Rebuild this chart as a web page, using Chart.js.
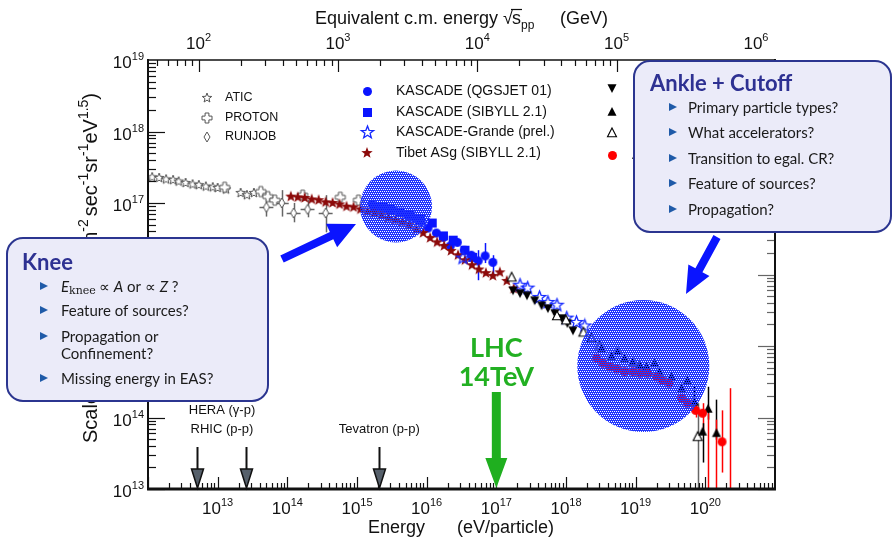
<!DOCTYPE html>
<html>
<head>
<meta charset="utf-8">
<script src="https://cdn.jsdelivr.net/npm/chart.js@4.4.0/dist/chart.umd.min.js"></script>
<style>
  html, body { margin: 0; padding: 0; background: #fff; }
  #wrap { width: 893px; height: 538px; }
</style>
</head>
<body>
<div id="wrap"><canvas id="cr" width="893" height="538"></canvas></div>
<script>
// all values are log10: energy in eV, scaled flux E^2.5 J(E)
const aticE = [12.06, 12.16, 12.26, 12.36, 12.44, 12.54, 12.64, 12.73, 12.83, 12.93, 13.00, 13.12, 13.33, 13.42, 13.52];
const aticF = [17.36, 17.35, 17.33, 17.32, 17.30, 17.28, 17.26, 17.25, 17.23, 17.22, 17.21, 17.19, 17.14, 17.11, 17.14];

const protonE = [13.10, 13.62, 13.72, 13.82, 14.22, 14.76, 15.02];
const protonF = [17.22, 17.16, 17.09, 17.04, 17.11, 17.08, 17.04];

const runjobE = [13.70, 13.92, 14.09, 14.29, 14.55];
const runjobF = [16.94, 17.00, 16.86, 16.91, 16.86];
const runjobLo = [16.81, 16.81, 16.73, 16.80, 16.59];
const runjobHi = [17.04, 17.18, 17.00, 17.04, 17.11];

const tibetE = [14.05, 14.15, 14.25, 14.35, 14.45, 14.55, 14.65, 14.75, 14.85, 14.95, 15.05, 15.15, 15.25, 15.35, 15.45, 15.55, 15.65,
                15.75, 15.85, 15.95, 16.05, 16.15, 16.25, 16.35, 16.45, 16.55, 16.65, 16.75, 16.85, 16.95, 17.05, 17.15, 17.25];
const tibetF = [17.09, 17.08, 17.07, 17.05, 17.04, 17.01, 17.00, 16.98, 16.95, 16.94, 16.91, 16.88, 16.86, 16.83, 16.79, 16.76, 16.73,
                16.69, 16.63, 16.58, 16.51, 16.45, 16.40, 16.33, 16.27, 16.20, 16.13, 16.07, 16.02, 15.98, 16.03, 15.91, 15.80];

const kasQgsE = [15.22, 15.32, 15.42, 15.52, 15.62, 15.72, 15.82, 15.92, 16.02, 16.14, 16.24, 16.34, 16.44, 16.54, 16.64, 16.74, 16.84, 16.95];
const kasQgsF = [16.98, 16.95, 16.93, 16.90, 16.87, 16.83, 16.79, 16.74, 16.65, 16.58, 16.52, 16.40, 16.45, 16.34, 16.27, 16.19, 16.26, 16.17];
const kasQgsLo = [null, null, null, null, null, null, null, null, null, null, null, null, null, null, null, 15.92, 16.16, 15.95];
const kasQgsHi = [null, null, null, null, null, null, null, null, null, null, null, null, null, null, null, 16.34, 16.44, 16.27];

const kasSibE = [15.26, 15.38, 15.48, 15.62, 15.76, 15.91, 16.08, 16.24, 16.38, 16.55, 16.66];
const kasSibF = [16.95, 16.94, 16.91, 16.87, 16.83, 16.77, 16.72, 16.54, 16.48, 16.34, 16.24];

const grandeE = [16.52, 17.34, 17.45, 17.62, 17.74, 17.87, 18.01, 18.15, 18.27];
const grandeF = [16.23, 15.85, 15.81, 15.68, 15.61, 15.57, 15.39, 15.33, 15.28];

const miaE = [17.24, 17.34, 17.44, 17.55, 17.65, 17.74, 17.84, 17.94, 18.02, 18.10];
const miaF = [15.78, 15.74, 15.71, 15.64, 15.57, 15.53, 15.46, 15.39, 15.32, 15.22];

const hires1E = [18.51, 18.65, 18.74, 18.84, 18.96, 19.06, 19.16, 19.27, 19.34, 19.51, 19.66, 19.74, 19.84, 19.96, 20.04, 20.16];
const hires1F = [14.97, 14.86, 14.93, 14.83, 14.78, 14.73, 14.71, 14.76, 14.64, 14.57, 14.41, 14.52, 14.22, 13.80, 14.12, 13.78];
const hires1Lo = [null, null, null, null, null, null, null, null, null, null, null, null, 14.10, 13.37, 13.97, 13.69];
const hires1Hi = [null, null, null, null, null, null, null, null, null, null, null, null, 14.43, 13.92, 14.43, 14.25];

const hires2E = [17.22, 17.87, 18.00, 18.25, 18.37, 18.48, 19.89];
const hires2F = [15.96, 15.42, 15.36, 15.19, 15.11, 15.01, 13.73];
const hires2Lo = [null, null, null, null, null, null, 13.00];
const hires2Hi = [null, null, null, null, null, null, 14.20];

const augerE = [18.44, 18.53, 18.63, 18.73, 18.84, 18.96, 19.06, 19.17, 19.30, 19.38, 19.48, 19.66, 19.74, 19.86, 19.96, 20.24];
const augerF = [14.83, 14.76, 14.71, 14.68, 14.64, 14.64, 14.62, 14.62, 14.57, 14.52, 14.48, 14.27, 14.20, 14.10, 14.06, 13.66];
const augerLo = [null, null, null, null, null, null, null, null, null, null, null, null, null, 14.00, 13.80, 13.23];
const augerHi = [null, null, null, null, null, null, null, null, null, null, null, null, null, 14.20, 14.20, 14.10];
// Auger bars with no point inside the frame
const augerBarE = [20.04, 20.16, 20.36];
const augerBarHi = [14.06, 13.97, 14.41];

// accelerators (log10 E lab)
const accelE = [12.71, 13.41, 15.32];
const lhcE = 17.0;

const xTicks = [13, 14, 15, 16, 17, 18, 19, 20];
const yTicks = [13, 14, 15, 16, 17, 18, 19];
const topTicks = [2, 3, 4, 5, 6];

const sqrtS = e => Math.sqrt(2 * 0.938 * e / 1e9);   // GeV, fixed target pp
const p10 = v => Math.pow(10, v);

// ---------- markers ----------
function marker(shape, size, fill, stroke, lw) {
    const s = Math.ceil(size + 4);
    const c = document.createElement("canvas");
    c.width = s; c.height = s;
    const g = c.getContext("2d");
    g.translate(s / 2, s / 2);
    const r = size / 2;
    g.beginPath();
    if (shape === "star") {
        for (let i = 0; i < 10; i++) {
            const a = -Math.PI / 2 + i * Math.PI / 5;
            const rr = i % 2 ? r * 0.42 : r;
            g.lineTo(rr * Math.cos(a), rr * Math.sin(a));
        }
    } else if (shape === "circle") {
        g.arc(0, 0, r, 0, 2 * Math.PI);
    } else if (shape === "square") {
        g.rect(-r, -r, 2 * r, 2 * r);
    } else if (shape === "diamond") {
        g.moveTo(0, -r); g.lineTo(r * 0.6, 0); g.lineTo(0, r); g.lineTo(-r * 0.6, 0);
    } else if (shape === "up") {
        g.moveTo(0, -r); g.lineTo(r * 0.9, r * 0.75); g.lineTo(-r * 0.9, r * 0.75);
    } else if (shape === "down") {
        g.moveTo(0, r); g.lineTo(r * 0.9, -r * 0.75); g.lineTo(-r * 0.9, -r * 0.75);
    } else if (shape === "cross") {
        const t = r * 0.38;
        g.moveTo(-t, -r); g.lineTo(t, -r); g.lineTo(t, -t); g.lineTo(r, -t); g.lineTo(r, t); g.lineTo(t, t);
        g.lineTo(t, r); g.lineTo(-t, r); g.lineTo(-t, t); g.lineTo(-r, t); g.lineTo(-r, -t); g.lineTo(-t, -t);
    }
    g.closePath();
    if (fill) { g.fillStyle = fill; g.fill(); }
    if (stroke) { g.strokeStyle = stroke; g.lineWidth = lw || 1; g.stroke(); }
    return c;
}

const M = {
    atic: marker("star", 10, "#fff", "#555", 1),
    proton: marker("cross", 10, "#fff", "#555", 1),
    runjob: marker("diamond", 10, "#fff", "#555", 1),
    qgs: marker("circle", 9, "#0a14ff", null),
    sib: marker("square", 9, "#0a14ff", null),
    grande: marker("star", 13, null, "#1428ff", 1.3),
    tibet: marker("star", 12, "#8c0a0a", null),
    mia: marker("down", 10, "#000", null),
    hires1: marker("up", 10, "#000", null),
    hires2: marker("up", 10, "#fff", "#000", 1.1),
    auger: marker("circle", 9, "#ff0000", null)
};

function series(label, xs, ys, style, order, errColor, lo, hi) {
    return {
        label: label,
        data: xs.map((x, i) => ({ x: p10(x), y: p10(ys[i]) })),
        pointStyle: style,
        pointRadius: 5,
        order: order,
        errColor: errColor,
        errLo: lo || null,
        errHi: hi || null
    };
}

const datasets = [
    series("Auger 2007", augerE, augerF, M.auger, 1, "#ff0000", augerLo, augerHi),
    series("HiRes I", hires1E, hires1F, M.hires1, 2, "#000", hires1Lo, hires1Hi),
    series("HiRes II", hires2E, hires2F, M.hires2, 3, "#666", hires2Lo, hires2Hi),
    series("HiRes-MIA", miaE, miaF, M.mia, 4, "#000"),
    series("KASCADE-Grande (prel.)", grandeE, grandeF, M.grande, 5, "#1428ff"),
    series("Tibet ASg (SIBYLL 2.1)", tibetE, tibetF, M.tibet, 6, "#8c0a0a"),
    series("KASCADE (SIBYLL 2.1)", kasSibE, kasSibF, M.sib, 7, "#0a14ff"),
    series("KASCADE (QGSJET 01)", kasQgsE, kasQgsF, M.qgs, 8, "#0a14ff", kasQgsLo, kasQgsHi),
    series("RUNJOB", runjobE, runjobF, M.runjob, 9, "#666", runjobLo, runjobHi),
    series("PROTON", protonE, protonF, M.proton, 10, "#666"),
    series("ATIC", aticE, aticF, M.atic, 11, "#666"),
    {
        label: "Auger bars",
        data: augerBarE.map(x => ({ x: p10(x), y: 1e13 })),
        pointRadius: 0, order: 12, errColor: "#ff0000",
        errLo: augerBarE.map(() => 13), errHi: augerBarHi
    }
];

// ---------- helpers ----------
function seg(ctx, x1, y1, x2, y2) {
    ctx.beginPath(); ctx.moveTo(x1, y1); ctx.lineTo(x2, y2); ctx.stroke();
}

function pow10Label(ctx, x, y, n, align, big, small) {
    ctx.textAlign = "left"; ctx.textBaseline = "alphabetic";
    ctx.font = big + "px 'Liberation Sans'";
    const wa = ctx.measureText("10").width;
    ctx.font = small + "px 'Liberation Sans'";
    const wb = ctx.measureText(String(n)).width;
    let x0 = x;
    if (align === "center") x0 = x - (wa + wb) / 2;
    if (align === "right") x0 = x - wa - wb;
    ctx.font = big + "px 'Liberation Sans'";
    ctx.fillText("10", x0, y);
    ctx.font = small + "px 'Liberation Sans'";
    ctx.fillText(String(n), x0 + wa, y - 8);
}

// draws a run of [text, font, dy, extra gap] pieces from x, returns end x
function pieces(ctx, x, y, list) {
    list.forEach(p => {
        ctx.font = p[1];
        ctx.fillText(p[0], x, y + (p[2] || 0));
        x += ctx.measureText(p[0]).width + (p[3] || 0);
    });
    return x;
}

function piecesWidth(ctx, list) {
    let w = 0;
    list.forEach(p => { ctx.font = p[1]; w += ctx.measureText(p[0]).width + (p[3] || 0); });
    return w;
}

function thickArrow(ctx, x1, y1, x2, y2, shaftW, headW, headL, color) {
    const dx = x2 - x1, dy = y2 - y1, len = Math.hypot(dx, dy);
    const ux = dx / len, uy = dy / len, nx = -uy, ny = ux;
    const bx = x2 - ux * headL, by = y2 - uy * headL;
    ctx.beginPath();
    ctx.moveTo(x1 + nx * shaftW / 2, y1 + ny * shaftW / 2);
    ctx.lineTo(bx + nx * shaftW / 2, by + ny * shaftW / 2);
    ctx.lineTo(bx + nx * headW / 2, by + ny * headW / 2);
    ctx.lineTo(x2, y2);
    ctx.lineTo(bx - nx * headW / 2, by - ny * headW / 2);
    ctx.lineTo(bx - nx * shaftW / 2, by - ny * shaftW / 2);
    ctx.lineTo(x1 - nx * shaftW / 2, y1 - ny * shaftW / 2);
    ctx.closePath();
    ctx.fillStyle = color;
    ctx.fill();
}

function roundBox(ctx, x, y, w, h, r) {
    ctx.beginPath();
    ctx.moveTo(x + r, y);
    ctx.arcTo(x + w, y, x + w, y + h, r);
    ctx.arcTo(x + w, y + h, x, y + h, r);
    ctx.arcTo(x, y + h, x, y, r);
    ctx.arcTo(x, y, x + w, y, r);
    ctx.closePath();
    ctx.fillStyle = "#ebebf9";
    ctx.fill();
    ctx.lineWidth = 2;
    ctx.strokeStyle = "#2b3590";
    ctx.stroke();
}

function bullet(ctx, x, y) {
    ctx.beginPath();
    ctx.moveTo(x, y - 4); ctx.lineTo(x + 8, y); ctx.lineTo(x, y + 4);
    ctx.closePath();
    ctx.fillStyle = "#1f5aa8";
    ctx.fill();
}

// dotted blue disc: opaque blue pixels with see-through holes
function dottedDisc(ctx, cx, cy, r) {
    ctx.save();
    ctx.beginPath();
    ctx.arc(cx, cy, r, 0, 2 * Math.PI);
    ctx.clip();
    ctx.fillStyle = "rgb(32,52,255)";
    const x0 = Math.floor(cx - r) - 1, y0 = Math.floor(cy - r) - 1, x1 = Math.ceil(cx + r) + 1, y1 = Math.ceil(cy + r) + 1;
    for (let y = y0; y <= y1; y++) {
        const row = (y - y0) % 4;
        if (row === 1 || row === 3) { ctx.fillRect(x0, y, x1 - x0, 1); continue; }
        for (let x = x0 + (row === 0 ? 1 : 0); x <= x1; x += 2) ctx.fillRect(x, y, 1, 1);
    }
    ctx.restore();
}

// ---------- plugin ----------
const overlay = {
    id: "overlay",
    beforeDatasetsDraw(chart) {
        const ctx = chart.ctx, a = chart.chartArea, sx = chart.scales.x, sy = chart.scales.y;
        ctx.save();
        ctx.beginPath(); ctx.rect(a.left, a.top, a.right - a.left, a.bottom - a.top); ctx.clip();
        ctx.lineWidth = 1.5;
        chart.data.datasets.forEach(ds => {
            if (!ds.errLo) return;
            ctx.strokeStyle = ds.errColor;
            ds.data.forEach((pt, i) => {
                if (ds.errLo[i] == null) return;
                const px = Math.round(sx.getPixelForValue(pt.x)) + 0.5;
                seg(ctx, px, sy.getPixelForValue(p10(ds.errLo[i])), px, sy.getPixelForValue(p10(ds.errHi[i])));
            });
        });
        // RUNJOB horizontal bars
        ctx.strokeStyle = "#666";
        runjobE.forEach((e, i) => {
            const py = Math.round(sy.getPixelForValue(p10(runjobF[i]))) + 0.5;
            seg(ctx, sx.getPixelForValue(p10(e - 0.1)), py, sx.getPixelForValue(p10(e + 0.1)), py);
        });
        ctx.restore();
    },
    afterDatasetsDraw(chart) {
        const ctx = chart.ctx, sx = chart.scales.x, sy = chart.scales.y;
        [[15.56, 16.95, 36], [19.11, 14.72, 66]].forEach(c => {
            dottedDisc(ctx, sx.getPixelForValue(p10(c[0])), sy.getPixelForValue(p10(c[1])), c[2]);
        });
    },
    afterDraw(chart) {
        const ctx = chart.ctx, a = chart.chartArea;
        const sx = chart.scales.x, sx2 = chart.scales.x2, sy = chart.scales.y;
        ctx.save();

        // ticks (inside the frame, ROOT style)
        ctx.strokeStyle = "#111";
        ctx.lineWidth = 1.2;
        for (let n = 12; n <= 20; n++) for (let k = 1; k <= 9; k++) {
            const v = k * Math.pow(10, n);
            if (v < sx.min || v > sx.max) continue;
            const px = Math.round(sx.getPixelForValue(v)) + 0.5;
            seg(ctx, px, a.bottom, px, a.bottom - (k === 1 ? 12 : 6));
        }
        for (let n = 1; n <= 6; n++) for (let k = 1; k <= 9; k++) {
            const v = k * Math.pow(10, n);
            if (v < sx2.min || v > sx2.max) continue;
            const px = Math.round(sx2.getPixelForValue(v)) + 0.5;
            seg(ctx, px, a.top, px, a.top + (k === 1 ? 12 : 6));
        }
        for (let n = 13; n <= 18; n++) for (let k = 1; k <= 9; k++) {
            const v = k * Math.pow(10, n);
            const py = Math.round(sy.getPixelForValue(v)) + 0.5;
            ctx.strokeStyle = "#111";
            seg(ctx, a.left, py, a.left + (k === 1 ? 17 : 8), py);
            ctx.strokeStyle = "#666";
            seg(ctx, a.right, py, a.right - (k === 1 ? 17 : 8), py);
        }

        // frame
        ctx.strokeStyle = "#111";
        ctx.lineWidth = 1.5; seg(ctx, a.left, a.top, a.right, a.top);
        ctx.lineWidth = 2; seg(ctx, a.left, a.top - 1, a.left, a.bottom);
        seg(ctx, a.right, a.top - 1, a.right, a.bottom);
        ctx.lineWidth = 3; seg(ctx, a.left - 1, a.bottom, a.right + 1, a.bottom);

        // tick labels
        ctx.fillStyle = "#111";
        xTicks.forEach(n => pow10Label(ctx, sx.getPixelForValue(p10(n)), a.bottom + 25, n, "center", 17, 11));
        yTicks.forEach(n => pow10Label(ctx, a.left - 4, sy.getPixelForValue(p10(n)) + 8, n, "right", 17, 11));
        topTicks.forEach(n => pow10Label(ctx, sx2.getPixelForValue(p10(n)), a.top - 11, n, "center", 17, 11));

        // axis titles
        ctx.textAlign = "left"; ctx.textBaseline = "alphabetic";
        const f18 = "18px 'Liberation Sans'", f12 = "12px 'Liberation Sans'";
        ctx.font = f18;
        ctx.fillText("Energy", 368, 533);
        ctx.fillText("(eV/particle)", 457, 533);
        let tx = pieces(ctx, 315, 24, [["Equivalent c.m. energy ", f18], ["\u221A", f18, 0, -1]]);
        ctx.font = f18;
        const ws = ctx.measureText("s").width;
        ctx.fillText("s", tx, 24);
        ctx.lineWidth = 1.2;
        seg(ctx, tx - 1, 9.5, tx + ws + 1, 9.5);
        ctx.font = f12;
        ctx.fillText("pp", tx + ws, 29);
        ctx.font = f18;
        ctx.fillText("(GeV)", 560, 24);

        // rotated y title: first part from the bottom, unit part ending near the top
        const f20 = "20px 'Liberation Sans'", f14 = "14px 'Liberation Sans'";
        ctx.save();
        ctx.translate(97, 0);
        ctx.rotate(-Math.PI / 2);
        pieces(ctx, -443, 0, [["Scaled flux  E", f20], ["2.5", f14, -9], [" J(E)", f20]]);
        const unit = [["(m", f20], ["-2", f14, -9, 3], ["sec", f20], ["-1", f14, -9], ["sr", f20], ["-1", f14, -9],
            ["eV", f20], ["1.5", f14, -9], [")", f20]];
        pieces(ctx, -93 - piecesWidth(ctx, unit), 0, unit);
        ctx.restore();

        // legend
        const legend = [
            [M.atic, 207, 225, 98, "ATIC", 12.5], [M.proton, 207, 225, 118, "PROTON", 12.5], [M.runjob, 207, 225, 137, "RUNJOB", 12.5],
            [M.qgs, 367, 396, 91, "KASCADE (QGSJET 01)", 14], [M.sib, 367, 396, 112, "KASCADE (SIBYLL 2.1)", 14],
            [M.grande, 367, 396, 132, "KASCADE-Grande (prel.)", 14], [M.tibet, 367, 396, 153, "Tibet ASg (SIBYLL 2.1)", 14],
            [M.mia, 612, 632, 88, "HiRes-MIA", 14], [M.hires1, 612, 632, 112, "HiRes I", 14],
            [M.hires2, 612, 632, 133, "HiRes II", 14], [M.auger, 612, 632, 155, "Auger 2007", 14]
        ];
        ctx.textBaseline = "middle"; ctx.fillStyle = "#111";
        legend.forEach(l => {
            ctx.drawImage(l[0], Math.round(l[1] - l[0].width / 2), Math.round(l[3] - l[0].height / 2));
            ctx.font = l[5] + "px 'Liberation Sans'";
            ctx.fillText(l[4], l[2], l[3]);
        });

        // accelerator arrows
        const yBot = sy.getPixelForValue(1e13);
        ctx.textAlign = "center"; ctx.textBaseline = "middle"; ctx.font = "13px 'Liberation Sans'"; ctx.fillStyle = "#111";
        ctx.fillText("HERA (\u03B3-p)", 222, 410);
        ctx.fillText("RHIC (p-p)", 222, 429);
        ctx.fillText("Tevatron (p-p)", sx.getPixelForValue(p10(accelE[2])), 429);
        accelE.forEach(e => {
            const px = Math.round(sx.getPixelForValue(p10(e))) + 0.5;
            ctx.strokeStyle = "#111"; ctx.lineWidth = 2;
            seg(ctx, px, yBot - 42, px, yBot - 20);
            ctx.beginPath();
            ctx.moveTo(px - 6, yBot - 20); ctx.lineTo(px + 6, yBot - 20); ctx.lineTo(px, yBot - 1);
            ctx.closePath();
            ctx.fillStyle = "#56606b"; ctx.fill();
            ctx.lineWidth = 1.5; ctx.stroke();
        });

        // LHC
        const lx = sx.getPixelForValue(p10(lhcE));
        thickArrow(ctx, lx, yBot - 97, lx, yBot - 1, 9, 22, 30, "#1faf1f");
        ctx.fillStyle = "#22b022";
        ctx.font = "bold 27px Lato";
        ctx.fillText("LHC", lx, 348);
        ctx.fillText("14TeV", lx, 377);

        // blue arrows
        thickArrow(ctx, 282, 259, 356, 224, 8, 26, 27, "#0a14ff");
        thickArrow(ctx, 717, 237, 686, 294, 8, 24, 27, "#0a14ff");

        // Knee box
        roundBox(ctx, 7, 238, 261, 163, 16);
        ctx.textAlign = "left"; ctx.textBaseline = "alphabetic";
        ctx.fillStyle = "#2e3192";
        ctx.font = "bold 22px Lato";
        ctx.fillText("Knee", 22, 270);
        const fi = "15px Lato";
        ctx.textBaseline = "middle";
        [287, 311, 337, 379].forEach(y => bullet(ctx, 40, y - 1));
        ctx.fillStyle = "#1a1a1a";
        pieces(ctx, 61, 287, [["E", "italic 15px Lato"], ["knee", "11px 'DejaVu Serif'", 4, 3], ["\u221D ", fi],
            ["A", "italic 15px Lato"], [" or \u221D ", fi], ["Z", "italic 15px Lato"], [" ?", fi]]);
        ctx.font = fi;
        ctx.fillText("Feature of sources?", 61, 311);
        ctx.fillText("Propagation or", 61, 337);
        ctx.fillText("Confinement?", 61, 354);
        ctx.fillText("Missing energy in EAS?", 61, 379);

        // Ankle box
        roundBox(ctx, 634, 61, 257, 171, 16);
        ctx.textBaseline = "alphabetic";
        ctx.fillStyle = "#2e3192";
        ctx.font = "bold 22px Lato";
        ctx.fillText("Ankle + Cutoff", 650, 91);
        ctx.textBaseline = "middle";
        const ankleItems = ["Primary particle types?", "What accelerators?", "Transition to egal. CR?", "Feature of sources?", "Propagation?"];
        const ankleY = [108, 133, 159, 184, 210];
        ankleItems.forEach((t, i) => {
            bullet(ctx, 669, ankleY[i] - 1);
            ctx.fillStyle = "#1a1a1a"; ctx.font = fi;
            ctx.fillText(t, 688, ankleY[i]);
        });

        ctx.restore();
    }
};

new Chart(document.getElementById("cr"), {
    type: "scatter",
    data: { datasets: datasets },
    options: {
        responsive: false,
        animation: false,
        layout: { padding: { left: 148, top: 60, right: 118, bottom: 49 } },
        plugins: { legend: { display: false }, tooltip: { enabled: false } },
        scales: {
            x: { type: "logarithmic", min: 1e12, max: 1e21, display: false },
            x2: { type: "logarithmic", position: "top", min: sqrtS(1e12), max: sqrtS(1e21), display: false },
            y: { type: "logarithmic", min: 1e13, max: 1e19, display: false },
            y2: { type: "logarithmic", position: "right", min: 1e13, max: 1e19, display: false }
        }
    },
    plugins: [overlay]
});
</script>
</body>
</html>
